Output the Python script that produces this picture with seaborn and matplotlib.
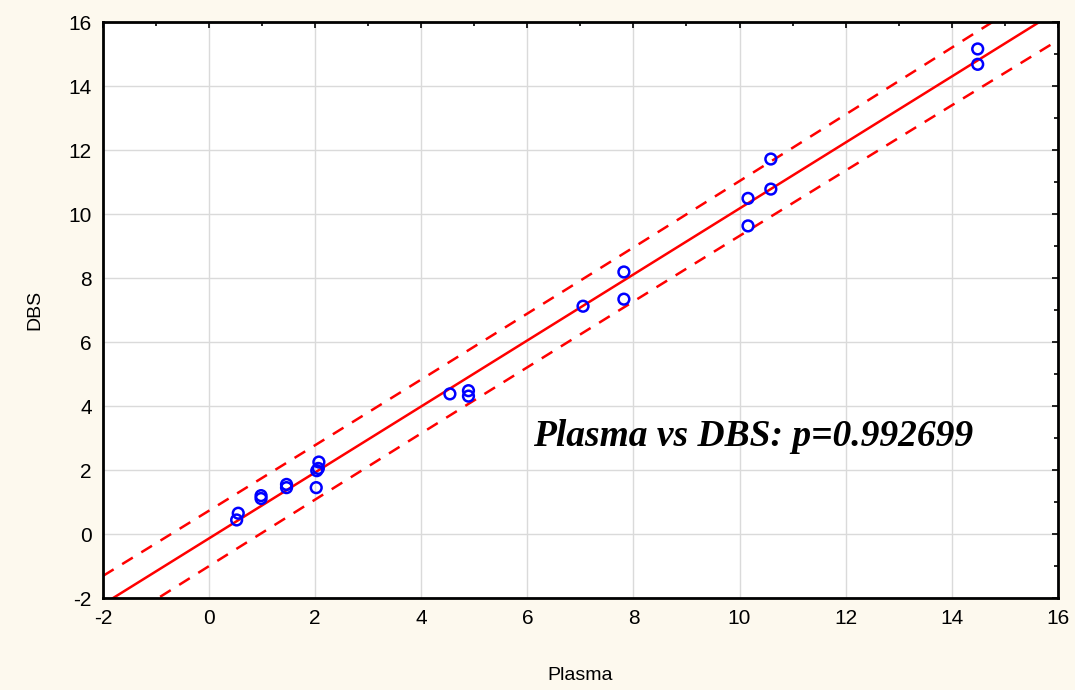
import numpy as np
import matplotlib
matplotlib.use("Agg")
import matplotlib.pyplot as plt
from matplotlib.ticker import MultipleLocator
import seaborn as sns

# values
plasma = [0.52, 0.55, 0.98, 0.98, 1.46, 1.46, 2.02, 2.03, 2.06, 2.07, 4.54, 4.89, 4.89,
          7.05, 7.82, 7.82, 10.16, 10.16, 10.59, 10.59, 14.49, 14.49]
dbs = [0.44, 0.65, 1.11, 1.20, 1.45, 1.55, 1.45, 1.98, 2.05, 2.25, 4.38, 4.48, 4.31,
       7.12, 8.19, 7.34, 10.49, 9.63, 11.72, 10.78, 15.16, 14.68]
note = "Plasma vs DBS: p=0.992699"

sns.set_style("whitegrid")
plt.rcParams['font.family'] = ['Liberation Sans', 'DejaVu Sans']
plt.rcParams['axes.unicode_minus'] = False

x = np.array(plasma)
y = np.array(dbs)

# linear fit + 95% prediction band
b, a = np.polyfit(x, y, 1)
n = len(x)
resid = y - (a + b * x)
s = np.sqrt(np.sum(resid ** 2) / (n - 2))
t = 2.086
xs = np.linspace(-2, 16, 200)
fit = a + b * xs
half = t * s * np.sqrt(1 + 1 / n + (xs - x.mean()) ** 2 / np.sum((x - x.mean()) ** 2))

fig = plt.figure(figsize=(10.75, 6.9), dpi=100, facecolor="#fdf9ee")
ax = fig.add_axes([0.0958, 0.1333, 0.8882, 0.8347])
ax.set_facecolor("white")

sns.lineplot(x=xs, y=fit, color="red", lw=1.8, ax=ax)
sns.lineplot(x=xs, y=fit + half, color="red", lw=1.8, ax=ax, linestyle=(0, (5, 4)))
sns.lineplot(x=xs, y=fit - half, color="red", lw=1.8, ax=ax, linestyle=(0, (5, 4)))
sns.scatterplot(x=x, y=y, ax=ax, s=60, facecolors="none", edgecolor="#0000ff",
                linewidth=1.8, zorder=5)

ax.set_xlim(-2, 16)
ax.set_ylim(-2, 16)
ax.xaxis.set_major_locator(MultipleLocator(2))
ax.yaxis.set_major_locator(MultipleLocator(2))
ax.xaxis.set_minor_locator(MultipleLocator(1))
ax.yaxis.set_minor_locator(MultipleLocator(1))
ax.grid(True, which="major", color="#dadada", lw=1)
ax.grid(False, which="minor")
ax.tick_params(which="both", direction="in", top=True, right=True, length=4,
               width=1.2, colors="black", labelsize=15, pad=8)
ax.tick_params(which="minor", length=3)
for sp in ax.spines.values():
    sp.set_color("black")
    sp.set_linewidth(2)

ax.set_xlabel("Plasma", fontsize=14, labelpad=28, color="black")
ax.set_ylabel("DBS", fontsize=14, labelpad=18, color="black")

ax.text(6.1, 3.05, note, fontsize=27, fontweight="bold", fontstyle="italic",
        family=["Liberation Serif", "DejaVu Serif"], va="center", ha="left",
        color="black")

fig.savefig("out.png", dpi=100, facecolor=fig.get_facecolor())
